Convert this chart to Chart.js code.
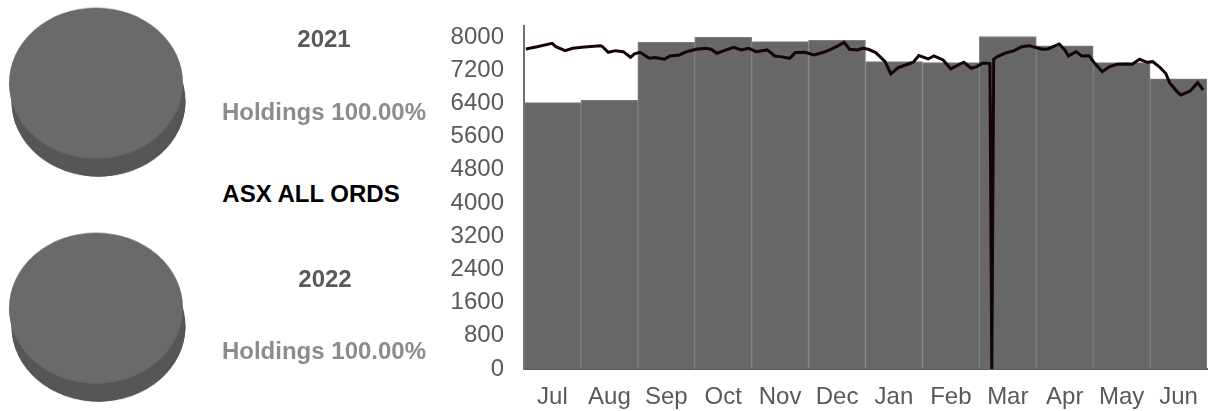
<!DOCTYPE html>
<html>
<head>
<meta charset="utf-8">
<script src="https://cdn.jsdelivr.net/npm/chart.js@4.4.1/dist/chart.umd.min.js"></script>
<style>
  html, body { margin: 0; padding: 0; background: #fff; }
  body { width: 1209px; height: 411px; position: relative; overflow: hidden; font-family: "Liberation Sans", Arial, sans-serif; }
  .pie { position: absolute; left: 6px; width: 180px; height: 200px; transform-origin: 0 0; transform: scaleY(0.868); }
  .lbl { position: absolute; width: 300px; text-align: center; font-weight: bold; font-size: 24px; line-height: 28px; white-space: nowrap; }
  #main { position: absolute; left: 430px; top: 0; width: 779px; height: 411px; }
</style>
</head>
<body>
<div class="pie" style="top:5px"><canvas id="pie2021"></canvas></div>
<div class="pie" style="top:230px"><canvas id="pie2022"></canvas></div>

<div class="lbl" id="year1" style="left:174px; top:25px; color:#595959"></div>
<div class="lbl" id="hold1" style="left:174px; top:98px; color:#8c8c8c"></div>
<div class="lbl" id="title" style="left:161px; top:180px; color:#000"></div>
<div class="lbl" id="year2" style="left:175px; top:265px; color:#595959"></div>
<div class="lbl" id="hold2" style="left:174px; top:337px; color:#8c8c8c"></div>

<div id="main"><canvas id="asx"></canvas></div>

<script>
// ---- data ----
const indexName = 'ASX ALL ORDS';
const pieYears = ['2021', '2022'];
const pieLabels = ['Holdings'];
const holdingsShare = [100, 100];

const months = ['Jul', 'Aug', 'Sep', 'Oct', 'Nov', 'Dec', 'Jan', 'Feb', 'Mar', 'Apr', 'May', 'Jun'];
const monthlyBars = [6420, 6482, 7872, 7990, 7887, 7920, 7405, 7382, 8012, 7790, 7382, 6995];

// days since 1 Jul, and the index close on that day
const lineDays = [1, 7, 15, 17, 22, 26, 31, 34, 41, 42,
  45, 49, 53, 57, 59, 62, 67, 70, 75, 78,
  83, 87, 92, 97, 100, 103, 107, 112, 116, 120,
  124, 130, 134, 137, 142, 145, 150, 155, 160, 164,
  168, 171, 174, 178, 181, 184, 188, 193, 196, 200,
  205, 208, 211, 216, 219, 224, 228, 232, 235, 239,
  242, 245, 247, 249, 250, 251, 253, 257, 262, 266,
  270, 273, 277, 280, 286, 289, 291, 295, 298, 302,
  305, 309, 313, 317, 322, 325, 329, 333, 336, 340,
  343, 345, 349, 351, 354, 356, 360, 363];
const lineValues = [7712, 7767, 7849, 7767, 7671, 7729, 7753, 7767, 7791, 7767,
  7632, 7671, 7647, 7512, 7592, 7632, 7487, 7503, 7463, 7543,
  7567, 7647, 7704, 7729, 7704, 7608, 7671, 7753, 7688, 7729,
  7647, 7688, 7543, 7527, 7487, 7624, 7632, 7567, 7632, 7704,
  7791, 7873, 7704, 7688, 7729, 7704, 7624, 7406, 7110, 7262,
  7343, 7391, 7551, 7471, 7543, 7447, 7230, 7326, 7391, 7246,
  7286, 7367, 7367, 7360, 0, 7463, 7527, 7608, 7671, 7767,
  7791, 7753, 7704, 7712, 7832, 7688, 7543, 7647, 7543, 7550,
  7367, 7165, 7286, 7343, 7351, 7343, 7463, 7391, 7406, 7262,
  7120, 6900, 6683, 6603, 6659, 6700, 6900, 6723];

const yTicks = [0, 800, 1600, 2400, 3200, 4000, 4800, 5600, 6400, 7200, 8000];
const yMax = 8265;

// ---- style ----
const FONT = '"Liberation Sans", Arial, sans-serif';
const TICK_COLOR = '#595959';
const PIE_TOP = '#6a6a6a';
const PIE_SIDE = '#565656';

// ---- text ----
document.getElementById('year1').textContent = pieYears[0];
document.getElementById('year2').textContent = pieYears[1];
document.getElementById('hold1').textContent = `${pieLabels[0]} ${holdingsShare[0].toFixed(2)}%`;
document.getElementById('hold2').textContent = `${pieLabels[0]} ${holdingsShare[1].toFixed(2)}%`;
document.getElementById('title').textContent = indexName;

// ---- pies: flat pie + darker extrusion underneath, squashed by css ----
const pieSide = {
  id: 'pieSide',
  beforeDatasetsDraw(chart) {
    const arc = chart.getDatasetMeta(0).data[0];
    if (!arc) return;
    const { x, y, outerRadius: r } = arc.getProps(['x', 'y', 'outerRadius'], true);
    const dx = 2.5, dy = 20.7;
    const ctx = chart.ctx;
    ctx.save();
    ctx.fillStyle = PIE_SIDE;
    ctx.beginPath();
    ctx.moveTo(x - r, y);
    ctx.lineTo(x - r + dx, y + dy);
    ctx.arc(x + dx, y + dy, r, Math.PI, 0, true);
    ctx.lineTo(x + r, y);
    ctx.closePath();
    ctx.fill();
    ctx.beginPath();
    ctx.arc(x + dx, y + dy, r, 0, Math.PI * 2);
    ctx.fill();
    ctx.restore();
  }
};

function makePie(id, share) {
  return new Chart(document.getElementById(id), {
    type: 'pie',
    data: {
      labels: pieLabels,
      datasets: [{ data: [share], backgroundColor: PIE_TOP, borderWidth: 0 }]
    },
    options: {
      animation: false,
      responsive: true,
      maintainAspectRatio: false,
      layout: { padding: { left: 3, right: 3, top: 3, bottom: 23 } },
      plugins: { legend: { display: false }, tooltip: { enabled: false } }
    },
    plugins: [pieSide]
  });
}

makePie('pie2021', holdingsShare[0]);
makePie('pie2022', holdingsShare[1]);

// ---- main bar + line chart ----
const linePoints = lineDays.map((d, i) => ({ x: d, y: lineValues[i] }));

function noPad(s) {
  s.paddingTop = 0;
  s.paddingBottom = 0;
  s.paddingLeft = 0;
  s.paddingRight = 0;
}

new Chart(document.getElementById('asx'), {
  type: 'bar',
  data: {
    labels: months,
    datasets: [
      {
        type: 'line',
        data: linePoints,
        xAxisID: 'xd',
        borderColor: '#140404',
        borderWidth: 3,
        pointRadius: 0,
        tension: 0,
        order: 0,
      },
      {
        type: 'bar',
        data: monthlyBars,
        backgroundColor: '#676767',
        borderColor: '#808080',
        borderWidth: 1,
        barPercentage: 1,
        categoryPercentage: 1,
        grouped: false,
        order: 1,
      },
    ],
  },
  options: {
    animation: false,
    responsive: true,
    maintainAspectRatio: false,
    layout: { padding: { top: 26, right: 2, left: 0, bottom: 0 } },
    plugins: { legend: { display: false }, tooltip: { enabled: false } },
    scales: {
      x: {
        type: 'category',
        offset: true,
        z: 1,
        grid: { display: false, drawTicks: false },
        border: { display: true, color: '#595959', width: 2 },
        ticks: { color: TICK_COLOR, font: { family: FONT, size: 24 }, padding: 14, maxRotation: 0, autoSkip: false },
        afterFit: s => { noPad(s); s.height = 42; },
      },
      xd: { type: 'linear', min: 0, max: 365, offset: false, display: false },
      y: {
        min: 0,
        max: yMax,
        z: 1,
        grid: { display: false, drawTicks: false },
        border: { display: true, color: '#707070', width: 2 },
        ticks: { color: TICK_COLOR, font: { family: FONT, size: 24 }, padding: 20, callback: v => String(v) },
        afterBuildTicks: s => { s.ticks = yTicks.map(v => ({ value: v })); },
        afterFit: s => { noPad(s); s.width = 94; },
      },
    },
  },
});
</script>
</body>
</html>
